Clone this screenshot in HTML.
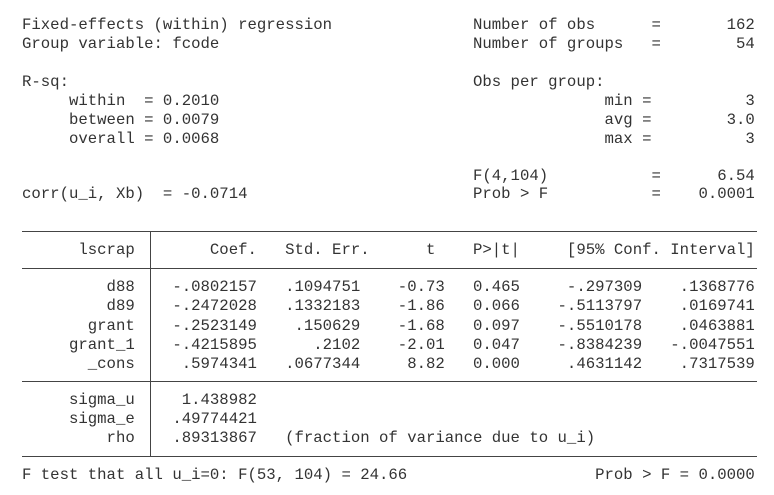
<!DOCTYPE html>
<html><head><meta charset="utf-8"><style>
html,body{margin:0;padding:0;background:#fff;}
body{width:774px;height:495px;position:relative;overflow:hidden;}
.l{position:absolute;left:22px;white-space:pre;font-family:"Liberation Mono",monospace;font-size:15.67px;line-height:20px;color:#333;}
.r{position:absolute;left:22px;width:735px;height:1px;background:#444;}
.v{position:absolute;left:150px;width:1px;background:#444;}
</style></head><body>
<div class="l" style="top:15px">Fixed-effects (within) regression               Number of obs      =       162</div>
<div class="l" style="top:34px">Group variable: fcode                           Number of groups   =        54</div>
<div class="l" style="top:72px">R-sq:                                           Obs per group:</div>
<div class="l" style="top:91px">     within  = 0.2010                                         min =          3</div>
<div class="l" style="top:110px">     between = 0.0079                                         avg =        3.0</div>
<div class="l" style="top:129px">     overall = 0.0068                                         max =          3</div>
<div class="l" style="top:166px">                                                F(4,104)           =      6.54</div>
<div class="l" style="top:184px">corr(u_i, Xb)  = -0.0714                        Prob > F           =    0.0001</div>
<div class="r" style="top:231px"></div>
<div class="l" style="top:240px">      lscrap        Coef.   Std. Err.      t    P>|t|     [95% Conf. Interval]</div>
<div class="r" style="top:268px"></div>
<div class="l" style="top:277px">         d88    -.0802157   .1094751    -0.73   0.465     -.297309    .1368776</div>
<div class="l" style="top:296px">         d89    -.2472028   .1332183    -1.86   0.066    -.5113797    .0169741</div>
<div class="l" style="top:316px">       grant    -.2523149    .150629    -1.68   0.097    -.5510178    .0463881</div>
<div class="l" style="top:335px">     grant_1    -.4215895      .2102    -2.01   0.047    -.8384239   -.0047551</div>
<div class="l" style="top:354px">       _cons     .5974341   .0677344     8.82   0.000     .4631142    .7317539</div>
<div class="r" style="top:381px"></div>
<div class="l" style="top:390px">     sigma_u     1.438982</div>
<div class="l" style="top:409px">     sigma_e    .49774421</div>
<div class="l" style="top:428px">         rho    .89313867   (fraction of variance due to u_i)</div>
<div class="r" style="top:456px"></div>
<div class="v" style="top:231px;height:226px"></div>
<div class="l" style="top:465px">F test that all u_i=0: F(53, 104) = 24.66                    Prob > F = 0.0000</div>
</body></html>
